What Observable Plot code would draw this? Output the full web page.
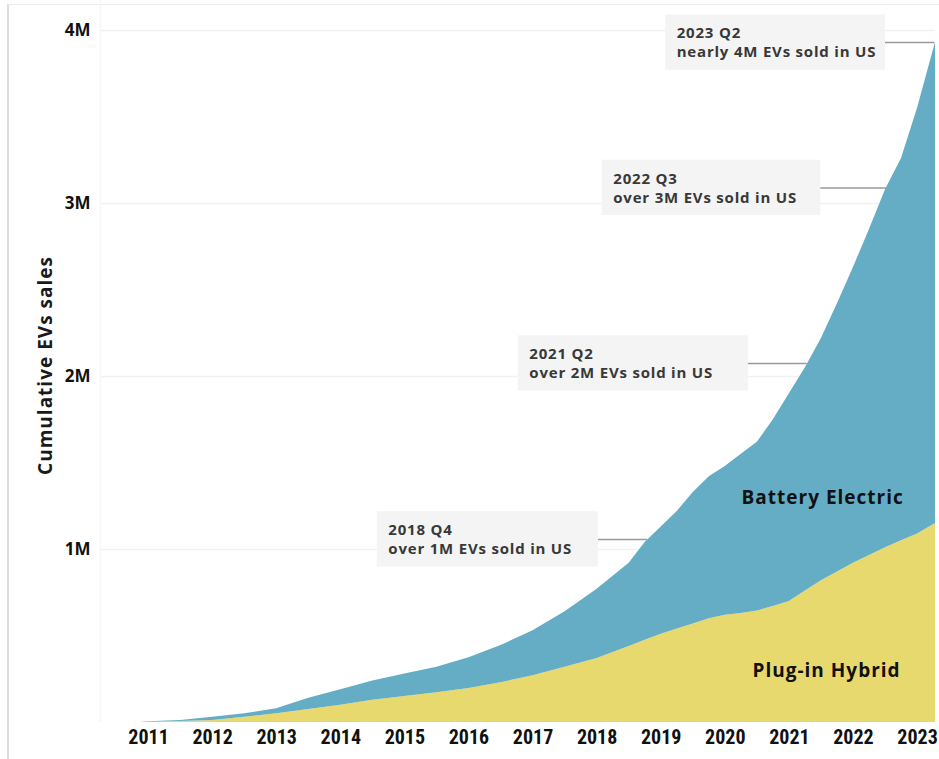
<!DOCTYPE html>
<html>
<head>
<meta charset="utf-8">
<script src="https://cdn.jsdelivr.net/npm/d3@7"></script>
<script src="https://cdn.jsdelivr.net/npm/@observablehq/plot@0.6"></script>
<style>
  html, body { margin: 0; padding: 0; background: #fff; }
  #wrap { position: relative; width: 939px; height: 759px; overflow: hidden; }
  #frame { position: absolute; left: 7px; top: 4px; width: 940px; height: 760px;
           border-left: 2px solid #dcdcdc; border-top: 1px solid #ececec; box-sizing: border-box; }
  #chart { position: absolute; left: 0; top: 0; }
</style>
</head>
<body>
<div id="wrap"><div id="frame"></div><div id="chart"></div></div>
<script>
// Time points (decimal years) and cumulative sales (millions)
const quarters = [2010.875, 2011, 2011.5, 2012, 2012.5, 2013, 2013.5, 2014, 2014.5, 2015, 2015.5, 2016, 2016.5, 2017, 2017.5, 2018, 2018.5, 2018.75, 2019, 2019.25, 2019.5, 2019.75, 2020, 2020.25, 2020.5, 2020.75, 2021, 2021.25, 2021.5, 2021.75, 2022, 2022.25, 2022.5, 2022.75, 2023, 2023.28];
const plugInHybrid = [0, .002, .006, .012, .03, .05, .075, .10, .128, .15, .172, .197, .23, .27, .32, .37, .44, .475, .51, .54, .57, .60, .62, .63, .645, .67, .70, .76, .82, .87, .92, .965, 1.01, 1.05, 1.09, 1.15];
const batteryElectric = [0, .003, .006, .018, .02, .03, .065, .09, .112, .13, .148, .178, .215, .26, .32, .40, .48, .565, .62, .68, .76, .82, .86, .92, .975, 1.08, 1.20, 1.29, 1.40, 1.55, 1.71, 1.885, 2.07, 2.21, 2.46, 2.78];
const seriesNames = ["Plug-in Hybrid", "Battery Electric"];
const yearTicks = [2011, 2012, 2013, 2014, 2015, 2016, 2017, 2018, 2019, 2020, 2021, 2022, 2023];
const valueTicks = [1, 2, 3, 4];

// Milestone annotations
const annoTitle = ["2018 Q4", "2021 Q2", "2022 Q3", "2023 Q2"];
const annoText = ["over 1M EVs sold in US", "over 2M EVs sold in US", "over 3M EVs sold in US", "nearly 4M EVs sold in US"];
const annoAt = [2018.79, 2021.28, 2022.52, 2023.27];
const annoValue = [1.058, 2.075, 3.09, 3.93];
const boxFrom = [2014.57, 2016.77, 2018.08, 2019.07];
const boxTo = [2018.02, 2020.36, 2021.49, 2022.5];

const data = quarters.flatMap((t, i) => [
  {t, type: seriesNames[0], v: plugInHybrid[i]},
  {t, type: seriesNames[1], v: batteryElectric[i]}
]);
const annos = annoTitle.map((title, i) => ({
  title, text: annoText[i], at: annoAt[i], v: annoValue[i], x1: boxFrom[i], x2: boxTo[i]
}));
const seriesLabels = [
  {name: "Battery Electric", t: 2021.52, v: 1.30},
  {name: "Plug-in Hybrid", t: 2021.58, v: 0.30}
];

const gridStart = 2010.25;
const xEnd = 2023.28;

const chart = Plot.plot({
  width: 939,
  height: 759,
  marginTop: 30,
  marginBottom: 37,
  marginLeft: 132,
  marginRight: 4,
  style: {fontFamily: "'Open Sans', sans-serif", background: "transparent", overflow: "visible"},
  x: {domain: [2010.75, xEnd], ticks: yearTicks, tickFormat: d => String(d), tickSize: 0, tickPadding: 9},
  y: {domain: [0, 4], ticks: valueTicks, tickFormat: d => d + "M", tickSize: 0, tickPadding: 42, label: null},
  color: {domain: seriesNames, range: ["#e8d96f", "#64adc5"]},
  marks: [
    Plot.ruleY(valueTicks, {x1: gridStart, x2: xEnd, stroke: "#f1f1f1", strokeWidth: 1.5}),
    Plot.ruleX([gridStart], {y1: 0, y2: 4.2, stroke: "#f6f6f6", strokeWidth: 1.5}),
    Plot.areaY(data, {x: "t", y: "v", fill: "type", order: seriesNames}),
    Plot.axisX({ticks: yearTicks, tickFormat: d => String(d), tickSize: 0, tickPadding: 7,
      fontFamily: "'Liberation Sans Narrow', 'Roboto Condensed', Roboto, sans-serif", fontWeight: 700, fontSize: 20, fill: "#111", label: null}),
    Plot.axisY({ticks: valueTicks, tickFormat: d => d + "M", tickSize: 0, tickPadding: 42,
      fontWeight: 700, fontSize: 17, fill: "#111", label: null}),
    Plot.text(["Cumulative EVs sales"], {frameAnchor: "left", rotate: -90, dx: -87, dy: -11, textAnchor: "middle",
      fontSize: 19, fontWeight: 700, fill: "#1a1a1a"}),
    // annotation boxes
    Plot.rect(annos, {x1: "x1", x2: "x2", y1: d => d.v - 0.16, y2: d => d.v + 0.16, fill: "#f4f4f4"}),
    Plot.ruleY(annos, {x1: "x2", x2: "at", y: "v", stroke: "#9a9a9a", strokeWidth: 1.5}),
    Plot.text(annos, {x: "x1", y: "v", text: "title", dx: 11, dy: -9, textAnchor: "start",
      fontSize: 15, fontWeight: 700, fill: "#383838"}),
    Plot.text(annos, {x: "x1", y: "v", text: "text", dx: 11, dy: 10, textAnchor: "start",
      fontSize: 15, fontWeight: 700, fill: "#383838"}),
    Plot.text(seriesLabels, {x: "t", y: "v", text: "name", fontSize: 19, fontWeight: 700, fill: "#111"})
  ]
});
// letter spacing to approximate the wide geometric typeface of the original
d3.select(chart).selectAll("text").each(function() {
  const s = this.textContent;
  if (s === "Cumulative EVs sales") this.style.letterSpacing = "1px";
  else if (s === "Battery Electric" || s === "Plug-in Hybrid") this.style.letterSpacing = "1px";
  else if (/EVs sold|Q\d$/.test(s)) this.style.letterSpacing = "0.8px";
});
document.getElementById("chart").appendChild(chart);
</script>
</body>
</html>
